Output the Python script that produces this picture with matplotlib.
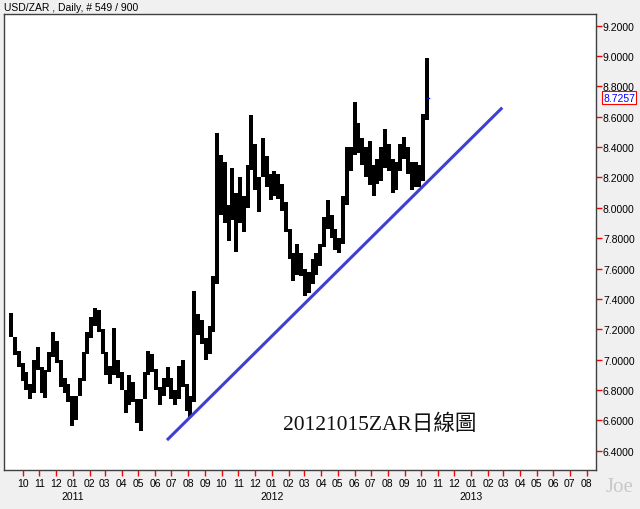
import pandas as pd
import matplotlib
matplotlib.use("Agg")
import matplotlib.pyplot as plt
import matplotlib.dates as mdates
import matplotlib.transforms as mtransforms

inicio = "2010-09-10"
maximas = [7.31, 7.15, 7.06, 6.98, 6.92, 6.84, 7.00, 7.08, 6.95, 6.93,
           7.05, 7.18, 7.12, 7.00, 6.88, 6.84, 6.76, 6.76, 6.88, 7.05,
           7.18, 7.28, 7.34, 7.33, 7.20, 7.05, 6.96, 7.21, 7.00, 6.92,
           6.80, 6.90, 6.85, 6.74, 6.74, 6.92, 7.06, 7.04, 6.94, 6.82,
           6.88, 6.95, 6.88, 6.80, 6.96, 7.00, 6.84, 6.76, 7.45, 7.30,
           7.26, 7.14, 7.22, 7.55, 8.49, 8.35, 8.30, 8.02, 8.26, 8.10,
           8.20, 8.08, 8.28, 8.61, 8.42, 8.20, 8.46, 8.34, 8.22, 8.24,
           8.22, 8.16, 8.04, 7.86, 7.70, 7.76, 7.70, 7.60, 7.58, 7.66,
           7.70, 7.76, 7.94, 8.05, 7.95, 7.86, 7.80, 8.08, 8.40, 8.40,
           8.70, 8.56, 8.46, 8.40, 8.44, 8.28, 8.32, 8.40, 8.52, 8.42,
           8.32, 8.30, 8.42, 8.47, 8.40, 8.30, 8.30, 8.28, 8.62, 8.99]
minimas = [7.15, 7.03, 6.95, 6.86, 6.80, 6.74, 6.78, 6.93, 6.78, 6.75,
           6.92, 7.02, 6.98, 6.82, 6.78, 6.72, 6.56, 6.60, 6.76, 6.86,
           7.04, 7.14, 7.22, 7.18, 7.04, 6.90, 6.84, 6.90, 6.88, 6.80,
           6.65, 6.70, 6.72, 6.58, 6.53, 6.74, 6.90, 6.92, 6.80, 6.70,
           6.76, 6.82, 6.74, 6.70, 6.74, 6.82, 6.66, 6.62, 6.72, 7.16,
           7.10, 7.00, 7.04, 7.18, 7.50, 7.95, 7.90, 7.78, 7.92, 7.71,
           7.90, 7.84, 8.00, 8.25, 8.12, 7.97, 8.20, 8.14, 8.05, 8.08,
           8.06, 7.98, 7.84, 7.66, 7.52, 7.56, 7.55, 7.42, 7.44, 7.50,
           7.56, 7.62, 7.74, 7.86, 7.80, 7.72, 7.70, 7.76, 8.02, 8.24,
           8.35, 8.36, 8.28, 8.20, 8.15, 8.08, 8.16, 8.18, 8.26, 8.24,
           8.10, 8.12, 8.24, 8.32, 8.22, 8.12, 8.14, 8.14, 8.18, 8.58]
ultimo = 8.7257

# linha de tendencia (suporte)
tend_datas = ["2011-06-23", "2013-02-27"]
tend_valores = [6.47, 8.66]

datas = pd.date_range(inicio, periods=len(maximas), freq="7D")
meses = pd.date_range("2010-10-01", "2013-08-01", freq="MS")

fig = plt.figure(figsize=(6.4, 5.1), dpi=100, facecolor="#f0f0f0")
ax = fig.add_axes([4 / 640, 39 / 510, 592 / 640, 456 / 510])
ax.set_facecolor("white")

ax.vlines(datas, minimas, maximas, color="black", linewidth=2.8,
          antialiased=False)
ax.plot(pd.to_datetime(tend_datas), tend_valores, color="#3f3fd2", linewidth=2.2,
        solid_capstyle="butt")
ax.plot([datas[-1], datas[-1] + pd.Timedelta(days=3)], [ultimo, ultimo],
        color="blue", linewidth=1)

ax.set_xlim(pd.Timestamp("2010-08-28"), pd.Timestamp("2013-08-18"))
ax.set_ylim(6.273, 9.277)

# eixo y a direita
ax.yaxis.tick_right()
ax.set_yticks([6.4 + 0.2 * i for i in range(15)])
ax.yaxis.set_major_formatter(plt.FormatStrFormatter("%.4f"))
ax.tick_params(axis="y", colors="red", labelcolor="black", length=4, width=1,
               labelsize=7.5, pad=1)

# eixo x: meses
ax.set_xticks(meses)
ax.xaxis.set_major_formatter(mdates.DateFormatter("%m"))
ax.tick_params(axis="x", colors="red", labelcolor="black", length=4, width=1,
               labelsize=7.5, pad=2)
for lbl in ax.get_xticklabels() + ax.get_yticklabels():
    lbl.set_fontfamily("Liberation Sans")

trans = mtransforms.blended_transform_factory(ax.transData, ax.transAxes)
for ano in ["2011", "2012", "2013"]:
    ax.text(pd.Timestamp(ano + "-01-01"), -0.058, ano, transform=trans,
            ha="center", va="center", fontsize=7.5, family="Liberation Sans",
            clip_on=False)

for s in ax.spines.values():
    s.set_color("#404040")
    s.set_linewidth(1)

# ultimo preco
ax.text(1.012, (ultimo - 6.273) / (9.277 - 6.273), "%.4f" % ultimo,
        transform=ax.transAxes, ha="left", va="center", color="blue",
        fontsize=7.5, family="Liberation Sans", clip_on=False,
        bbox=dict(boxstyle="square,pad=0.12", fc="white", ec="red", lw=0.8))

fig.text(4 / 640, 1 - 8 / 510, "USD/ZAR , Daily, # 549 / 900", ha="left",
         va="center", fontsize=7.5, family="Liberation Sans")

ax.text(0.635, 0.101, "20121015ZAR日線圖", transform=ax.transAxes,
        ha="center", va="center", fontsize=15.5,
        family=["Liberation Serif", "Noto Sans CJK TC"], color="#111111")

fig.text(620 / 640, 1 - 488 / 510, "Joe", ha="center", va="center",
         fontsize=15, family="Liberation Serif", color="#c8c8c8")

fig.savefig("out.png", dpi=100, facecolor=fig.get_facecolor())
